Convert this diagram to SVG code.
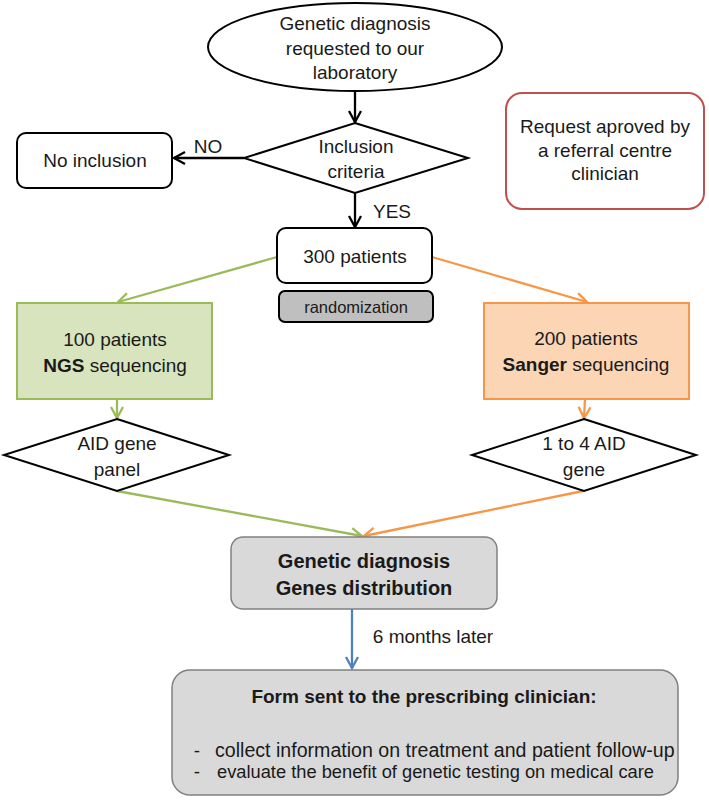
<svg xmlns="http://www.w3.org/2000/svg" width="709" height="800" viewBox="0 0 709 800">
<defs>
<style>
text{font-family:"Liberation Sans",Arial,sans-serif;font-size:19px;fill:#1a1a1a;text-anchor:middle}
.b{font-weight:bold}
.sm{font-size:16.5px}
.li{font-size:19.6px;text-anchor:start}
.box{fill:#fff;stroke:#000;stroke-width:2}
.ln{fill:none;stroke-width:2.3}
.k{stroke:#000}
.g{stroke:#9bbb59}
.o{stroke:#f79646}
.bl{stroke:#4f81bd}
</style>
<marker id="ak" markerUnits="userSpaceOnUse" markerWidth="16" markerHeight="16" refX="12" refY="7" orient="auto"><path d="M1,1 L12,7 L1,13" fill="none" stroke="#000" stroke-width="2.3"/></marker>
<marker id="ag" markerUnits="userSpaceOnUse" markerWidth="16" markerHeight="16" refX="12" refY="7" orient="auto"><path d="M1,1 L12,7 L1,13" fill="none" stroke="#9bbb59" stroke-width="2.3"/></marker>
<marker id="ao" markerUnits="userSpaceOnUse" markerWidth="16" markerHeight="16" refX="12" refY="7" orient="auto"><path d="M1,1 L12,7 L1,13" fill="none" stroke="#f79646" stroke-width="2.3"/></marker>
<marker id="ab" markerUnits="userSpaceOnUse" markerWidth="16" markerHeight="16" refX="12" refY="7" orient="auto"><path d="M1,1 L12,7 L1,13" fill="none" stroke="#4f81bd" stroke-width="2.3"/></marker>
</defs>
<rect width="709" height="800" fill="#fff"/>

<g id="connectors">
<line class="ln k" x1="355" y1="92" x2="355" y2="122" marker-end="url(#ak)"/>
<line class="ln k" x1="244" y1="158" x2="174" y2="158" marker-end="url(#ak)"/>
<line class="ln k" x1="355" y1="193" x2="355" y2="227" marker-end="url(#ak)"/>
<line class="ln g" x1="277" y1="257" x2="118" y2="302" marker-end="url(#ag)"/>
<line class="ln o" x1="432" y1="257" x2="587" y2="302" marker-end="url(#ao)"/>
<line class="ln g" x1="117" y1="399" x2="117" y2="418" marker-end="url(#ag)"/>
<line class="ln o" x1="585" y1="399" x2="584" y2="418" marker-end="url(#ao)"/>
<line class="ln g" x1="117" y1="491" x2="362" y2="536" marker-end="url(#ag)"/>
<line class="ln o" x1="583" y1="491" x2="364" y2="536" marker-end="url(#ao)"/>
<line class="ln bl" x1="352" y1="609" x2="352" y2="668" marker-end="url(#ab)"/>
<text x="208" y="153">NO</text>
<text x="392" y="218">YES</text>
<text x="433" y="643">6 months later</text>
</g>

<g id="start">
<ellipse cx="355" cy="47" rx="147" ry="44" class="box"/>
<text x="355" y="30">Genetic diagnosis</text>
<text x="355" y="55">requested to our</text>
<text x="355" y="79">laboratory</text>
</g>

<g id="inclusion">
<polygon points="355,123 468,158 355,193 244,158" class="box"/>
<text x="356" y="153">Inclusion</text>
<text x="356" y="178">criteria</text>
</g>

<g id="noinclusion">
<rect x="17" y="133" width="155" height="55" rx="9" class="box"/>
<text x="95" y="167">No inclusion</text>
</g>

<g id="request">
<rect x="506" y="93" width="198" height="116" rx="16" fill="#fff" stroke="#c0504d" stroke-width="2"/>
<text x="605" y="133">Request aproved by</text>
<text x="605" y="157">a referral centre</text>
<text x="605" y="180">clinician</text>
</g>

<g id="patients300">
<rect x="277" y="228" width="155" height="55" rx="9" class="box"/>
<text x="355" y="263">300 patients</text>
</g>

<g id="randomization">
<rect x="279" y="291" width="154" height="31" rx="6" fill="#bfbfbf" stroke="#000" stroke-width="2"/>
<text x="356" y="313" class="sm">randomization</text>
</g>

<g id="ngs">
<rect x="17" y="303" width="195" height="96" fill="#d7e4bd" stroke="#9bbb59" stroke-width="2"/>
<text x="115" y="346">100 patients</text>
<text x="115" y="372"><tspan class="b">NGS</tspan> sequencing</text>
</g>

<g id="sanger">
<rect x="484" y="303" width="205" height="96" fill="#fcd5b5" stroke="#f79646" stroke-width="2"/>
<text x="586" y="345">200 patients</text>
<text x="586" y="371"><tspan class="b">Sanger</tspan> sequencing</text>
</g>

<g id="panel">
<polygon points="117,419 229,455 117,491 4,455" class="box"/>
<text x="117" y="450">AID gene</text>
<text x="117" y="476">panel</text>
</g>

<g id="gene14">
<polygon points="584,419 696,455 584,491 472,455" class="box"/>
<text x="584" y="450">1 to 4 AID</text>
<text x="584" y="476">gene</text>
</g>

<g id="diagnosis">
<rect x="231" y="537" width="266" height="72" rx="12" fill="#d9d9d9" stroke="#808080" stroke-width="1.5"/>
<text x="364" y="568" class="b" style="font-size:20px">Genetic diagnosis</text>
<text x="364" y="595" class="b" style="font-size:20px">Genes distribution</text>
</g>

<g id="form">
<rect x="172" y="670" width="506" height="125" rx="18" fill="#d9d9d9" stroke="#808080" stroke-width="1.5"/>
<text x="424" y="703" class="b">Form sent to the prescribing clinician:</text>
<text x="197" y="757">-</text>
<text x="215" y="757" class="li">collect information on treatment and patient follow-up</text>
<text x="197" y="778">-</text>
<text x="217" y="778" class="li" style="font-size:18.3px">evaluate the benefit of genetic testing on medical care</text>
</g>
</svg>
